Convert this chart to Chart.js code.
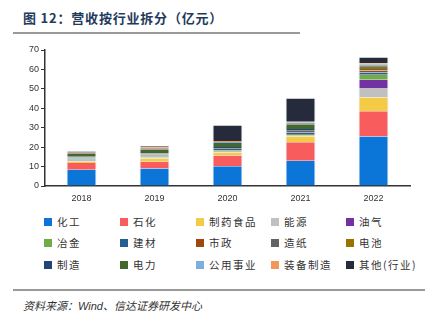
<!DOCTYPE html>
<html lang="zh">
<head>
  <meta charset="UTF-8">
  <title>营收按行业拆分</title>
  <script src="https://cdn.jsdelivr.net/npm/chart.js"></script>
  <style>
    body {
      margin: 0;
      width: 438px;
      height: 322px;
      background: #fff;
      position: relative;
      overflow: hidden;
      font-family: "Noto Sans CJK SC", "Liberation Sans", sans-serif;
    }
    #title {
      position: absolute;
      left: 23px;
      top: 8px;
      font-size: 13px;
      font-weight: bold;
      color: #1f3b5c;
      letter-spacing: 0.8px;
      white-space: nowrap;
    }
    .rule {
      position: absolute;
      height: 2px;
      background: #9a9a9a;
    }
    #chartBox {
      position: absolute;
      left: 0;
      top: 38px;
    }
    #legend .item {
      position: absolute;
      font-size: 10.5px;
      letter-spacing: 1.5px;
      color: #333;
      white-space: nowrap;
      line-height: 12px;
    }
    #legend .box {
      position: absolute;
      left: -13px;
      top: 2px;
      width: 8px;
      height: 8px;
    }
    #source {
      position: absolute;
      left: 23px;
      top: 297px;
      font-size: 11px;
      font-style: italic;
      color: #333;
      white-space: nowrap;
    }
  </style>
</head>
<body>
  <div id="title">图 12：营收按行业拆分（亿元）</div>
  <div class="rule" style="left:13px;top:32px;width:287px;"></div>

  <div id="chartBox">
    <canvas id="revChart" width="438" height="175"></canvas>
  </div>

  <div id="legend"></div>

  <div class="rule" style="left:13px;top:289px;width:412px;"></div>
  <div id="source">资料来源：<span style="font-family:'Liberation Sans',sans-serif">Wind</span>、信达证券研发中心</div>

  <script>
    // values, 亿元
    const years = ['2018', '2019', '2020', '2021', '2022'];

    const chemical    = [8.3, 9.0, 10.2, 13.0, 25.5];  // 化工
    const petrochem   = [3.5, 3.5, 5.5, 9.5, 13.0];    // 石化
    const pharmaFood  = [0.8, 1.7, 1.5, 3.0, 7.0];     // 制药食品
    const energy      = [0.3, 0.3, 0.3, 0.3, 5.0];     // 能源
    const oilGas      = [0.2, 0.2, 0.3, 0.3, 4.2];     // 油气
    const metallurgy  = [0.5, 0.5, 0.6, 0.7, 2.6];     // 冶金
    const buildMat    = [0.5, 0.5, 0.6, 0.7, 1.1];     // 建材
    const municipal   = [0.2, 0.2, 0.2, 0.3, 1.0];     // 市政
    const paper       = [0.3, 0.3, 0.3, 0.5, 0.8];     // 造纸
    const battery     = [0.1, 0.1, 0.1, 0.2, 1.2];     // 电池
    const manufacture = [0.3, 0.4, 0.5, 0.8, 0.6];     // 制造
    const power       = [1.5, 1.8, 2.0, 2.5, 0.5];     // 电力
    const utilities   = [0.5, 0.5, 0.6, 0.8, 0.4];     // 公用事业
    const equipment   = [0.5, 1.0, 0.5, 0.5, 0.4];     // 装备制造
    const others      = [0.3, 0.5, 8.0, 12.0, 2.8];    // 其他(行业)

    const seriesNames = ['化工', '石化', '制药食品', '能源', '油气',
                         '冶金', '建材', '市政', '造纸', '电池',
                         '制造', '电力', '公用事业', '装备制造', '其他(行业)'];
    const seriesData = [chemical, petrochem, pharmaFood, energy, oilGas,
                        metallurgy, buildMat, municipal, paper, battery,
                        manufacture, power, utilities, equipment, others];
    const seriesColors = ['#0b76d8', '#f95c5c', '#f3cb45', '#c0c0c0', '#7232a2',
                          '#70ad47', '#255e91', '#9e480e', '#636363', '#997300',
                          '#264478', '#43682b', '#7cafdd', '#f1975a', '#252b3b'];

    const yTicks = [0, 10, 20, 30, 40, 50, 60, 70];

    const datasets = seriesNames.map((name, i) => ({
      label: name,
      data: seriesData[i],
      backgroundColor: seriesColors[i],
      borderColor: 'rgba(215,225,235,0.9)',
      borderWidth: { left: 1, right: 1, top: 0, bottom: 0 },
      borderSkipped: false,
      barPercentage: 0.41,
      categoryPercentage: 1.0
    }));

    const ctx = document.getElementById('revChart').getContext('2d');
    const chart = new Chart(ctx, {
      type: 'bar',
      data: { labels: years, datasets: datasets },
      options: {
        responsive: false,
        animation: false,
        layout: { padding: { left: 0, right: 28, top: 12, bottom: 0 } },
        plugins: {
          legend: { display: false },
          tooltip: { enabled: false }
        },
        scales: {
          x: {
            stacked: true,
            grid: { display: false, drawTicks: false },
            border: { display: true, color: '#333', width: 1.5 },
            ticks: {
              padding: 7,
              color: '#333',
              font: { family: 'Liberation Sans', size: 9 }
            },
            afterFit: (scale) => { scale.height = 27; }
          },
          y: {
            stacked: true,
            min: 0,
            max: 70,
            afterBuildTicks: (scale) => { scale.ticks = yTicks.map(v => ({ value: v })); },
            grid: { drawOnChartArea: false, drawTicks: true, tickLength: 4, color: '#333' },
            border: { display: true, color: '#333', width: 1.5 },
            ticks: {
              padding: 2,
              color: '#333',
              font: { family: 'Liberation Sans', size: 9 }
            },
            afterFit: (scale) => { scale.width = 45; }
          }
        }
      }
    });

    // legend: 5 columns x 3 rows, like the original
    const colX = [57, 133, 209, 284, 359];
    const rowY = [216, 237, 259];
    const legendEl = document.getElementById('legend');
    chart.data.datasets.forEach((ds, i) => {
      const item = document.createElement('div');
      item.className = 'item';
      item.style.left = colX[i % 5] + 'px';
      item.style.top = rowY[Math.floor(i / 5)] + 'px';
      item.innerHTML = '<span class="box" style="background:' + ds.backgroundColor + '"></span>' + ds.label;
      legendEl.appendChild(item);
    });
  </script>
</body>
</html>
